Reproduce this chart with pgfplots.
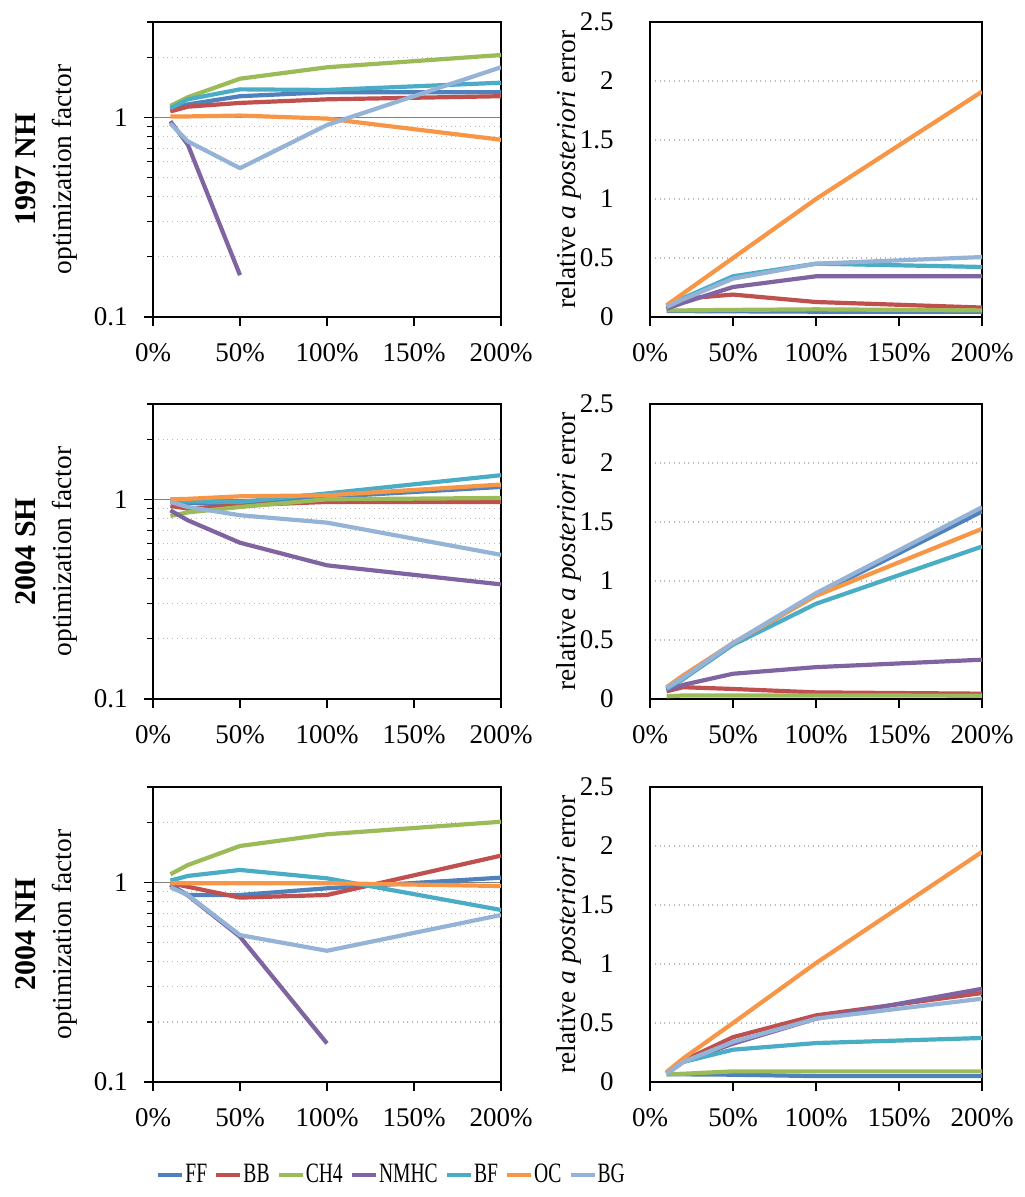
\documentclass[border=0pt]{standalone}
\usepackage{fontspec}
\setmainfont{Liberation Serif}
\usepackage{graphicx}
\usepackage{pgfplots}
\usepackage{pgfplotstable}
\pgfplotsset{compat=1.18}

\definecolor{cFF}{HTML}{4F81BD}
\definecolor{cBB}{HTML}{C0504D}
\definecolor{cCH}{HTML}{9BBB59}
\definecolor{cNM}{HTML}{8064A2}
\definecolor{cBF}{HTML}{4BACC6}
\definecolor{cOC}{HTML}{F79646}
\definecolor{cBG}{HTML}{95B3D7}

% 1997 NH optimization factor
\pgfplotstableread{
x   FF    BB    CH4   NMHC  BF    OC    BG
10  1.10  1.07  1.14  0.955 1.11  1.01  0.93
20  1.16  1.13  1.26  0.73  1.23  1.01  0.758
50  1.275 1.18  1.56  0.162 1.38  1.02  0.556
100 1.335 1.23  1.78  nan   1.37  0.985 0.915
200 1.335 1.275 2.05  nan   1.49  0.772 1.78
}\tabAa
% 1997 NH error
\pgfplotstableread{
x   FF    BB    CH4   NMHC  BF    OC    BG
10  0.05  0.07  0.056 0.07  0.09  0.10  0.085
20  0.05  0.155 0.056 0.12  0.16  0.20  0.15
50  0.048 0.19  0.06  0.254 0.345 0.50  0.325
100 0.045 0.127 0.065 0.345 0.452 1.00  0.452
200 0.045 0.08  0.056 0.345 0.424 1.91  0.508
}\tabAb
% 2004 SH optimization factor
\pgfplotstableread{
x   FF    BB    CH4   NMHC  BF    OC    BG
10  0.977 0.926 0.825 0.88  0.99  1.0   0.97
20  0.96  0.898 0.86  0.785 0.975 1.005 0.915
50  0.94  0.933 0.915 0.606 0.97  1.035 0.832
100 1.027 0.97  1.0   0.467 1.07  1.047 0.764
200 1.153 0.97  1.015 0.375 1.32  1.185 0.527
}\tabBa
% 2004 SH error
\pgfplotstableread{
x   FF    BB    CH4   NMHC  BF    OC    BG
10  0.085 0.065 0.023 0.073 0.085 0.10  0.093
20  0.17  0.10  0.03  0.12  0.17  0.20  0.18
50  0.468 0.085 0.03  0.214 0.46  0.474 0.474
100 0.883 0.056 0.03  0.27  0.807 0.875 0.897
200 1.589 0.045 0.028 0.333 1.292 1.442 1.625
}\tabBb
% 2004 NH optimization factor
\pgfplotstableread{
x   FF    BB    CH4   NMHC  BF    OC    BG
10  0.97  0.99  1.097 0.97  1.02  0.99  0.944
20  0.864 0.95  1.22  0.86  1.076 0.99  0.864
50  0.864 0.838 1.52  0.534 1.153 0.99  0.544
100 0.933 0.864 1.74  0.156 1.047 0.99  0.454
200 1.055 1.36  2.01  nan   0.727 0.958 0.686
}\tabCa
% 2004 NH error
\pgfplotstableread{
x   FF    BB    CH4   NMHC  BF    OC    BG
10  0.065 0.076 0.065 0.07  0.076 0.085 0.07
20  0.065 0.18  0.07  0.17  0.17  0.20  0.17
50  0.062 0.38  0.09  0.325 0.274 0.50  0.34
100 0.05  0.565 0.09  0.537 0.33  1.008 0.537
200 0.05  0.754 0.09  0.79  0.373 1.95  0.706
}\tabCb

\newcommand{\plotall}[1]{%
  \addplot[cFF] table[x=x,y=FF]{#1};
  \addplot[cBB] table[x=x,y=BB]{#1};
  \addplot[cCH] table[x=x,y=CH4]{#1};
  \addplot[cNM] table[x=x,y=NMHC]{#1};
  \addplot[cBF] table[x=x,y=BF]{#1};
  \addplot[cOC] table[x=x,y=OC]{#1};
  \addplot[cBG] table[x=x,y=BG]{#1};
}

\pgfplotsset{
  mybase/.style={
    scale only axis, anchor=north west,
    xmin=0, xmax=200,
    xtick={0,50,100,150,200},
    xticklabels={0\%,50\%,100\%,150\%,200\%},
    xtick pos=lower, ytick pos=left, tick align=outside,
    major tick length=4.5pt, minor tick length=3pt,
    tick style={black, line width=0.6pt},
    axis line style={black, line width=0.7pt},
    tick label style={font=\fontsize{13.5}{16}\selectfont},
    xticklabel style={anchor=north, inner sep=0pt, yshift=-8.5pt},
    ylabel style={font=\fontsize{13.7}{16}\selectfont},
    every axis plot/.append style={line width=2.1pt, no markers, line join=round},
    legend image code/.code={\draw[##1, line width=2.1pt] (0pt,0pt) -- (12pt,0pt);},
  },
  myleft/.style={
    mybase, width=174pt, height=147.5pt,
    ymin=0.1, ymax=3,
    ytick={0.1,1}, yticklabels={0.1,1},
    minor ytick={0.2,0.3,0.4,0.5,0.6,0.7,0.8,0.9,2,3},
    ymajorgrids, yminorgrids,
    major grid style={gray, line width=0.6pt, solid},
    minor grid style={gray!55, dotted, line width=0.6pt},
    yticklabel style={anchor=east, inner sep=0pt, xshift=-8pt},
    ylabel={optimization factor},
    ylabel style={at={(axis description cs:-0.253,0.5)}, anchor=center},
  },
  myright/.style={
    mybase, width=166pt, height=147.5pt,
    ymin=0, ymax=2.5,
    ytick={0,0.5,1,1.5,2,2.5}, yticklabels={0,0.5,1,1.5,2,2.5},
    ymajorgrids,
    major grid style={gray!55, dotted, line width=0.6pt},
    ytick style={draw=none},
    yticklabel style={anchor=east, inner sep=0pt, xshift=-13.5pt},
    ylabel={relative \textit{a posteriori} error},
    ylabel style={at={(axis description cs:-0.244,0.5)}, anchor=center},
  },
}

\newcommand{\boldlab}[1]{\node[rotate=90, font=\fontsize{15}{18}\bfseries\selectfont] at (-0.365,0.5) {#1};}
\newcommand{\legtxt}[1]{\scalebox{0.7}[1]{#1}}

\begin{document}
\begin{tikzpicture}
\useasboundingbox (0,0) rectangle (512pt,-598.5pt);

% row 1
\begin{axis}[ymode=log, myleft, at={(76.5pt,-11pt)}, extra description/.code={\boldlab{1997 NH}}]
\plotall{\tabAa}
\end{axis}
\begin{axis}[myright, at={(325pt,-11pt)}]
\plotall{\tabAb}
\end{axis}

% row 2
\begin{axis}[ymode=log, myleft, at={(76.5pt,-202pt)}, extra description/.code={\boldlab{2004 SH}}]
\plotall{\tabBa}
\end{axis}
\begin{axis}[myright, at={(325pt,-202pt)}]
\plotall{\tabBb}
\end{axis}

% row 3
\begin{axis}[ymode=log, myleft, at={(76.5pt,-393.5pt)}, extra description/.code={\boldlab{2004 NH}},
  legend style={at={(0.684,-0.315)}, anchor=center, draw=none, fill=none,
    legend columns=7, font=\fontsize{14}{16}\selectfont,
    nodes={inner xsep=0.5pt},
    /tikz/every odd column/.append style={column sep=0pt},
    /tikz/every even column/.append style={column sep=3pt}},
  legend cell align=left]
\plotall{\tabCa}
\legend{\legtxt{FF},\legtxt{BB},\legtxt{CH4},\legtxt{NMHC},\legtxt{BF},\legtxt{OC},\legtxt{BG}}
\end{axis}
\begin{axis}[myright, at={(325pt,-393.5pt)}]
\plotall{\tabCb}
\end{axis}
\end{tikzpicture}
\end{document}
